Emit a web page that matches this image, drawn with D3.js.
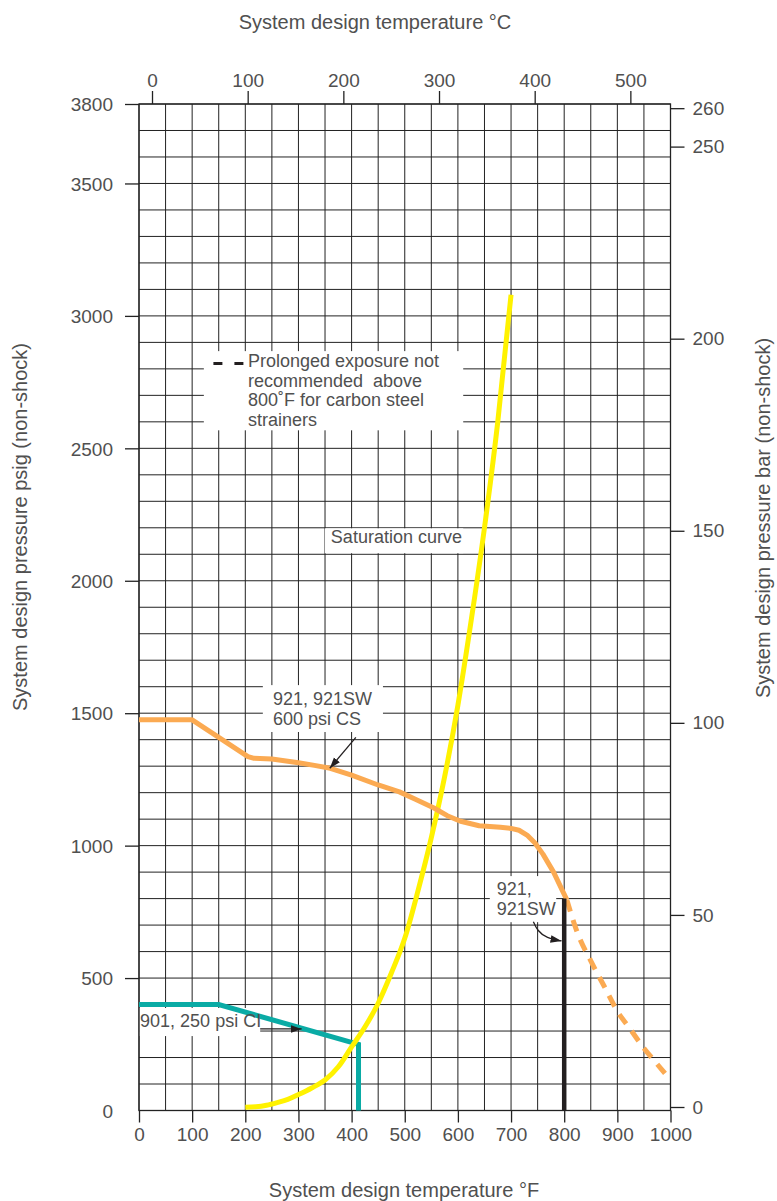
<!DOCTYPE html>
<html>
<head>
<meta charset="utf-8">
<script src="https://cdn.jsdelivr.net/npm/d3@7"></script>
<style>
  body { margin: 0; background: #fff; }
  text { font-family: "Liberation Sans", Arial, sans-serif; fill: #505050; white-space: pre; }
</style>
</head>
<body>
<svg id="chart" width="777" height="1201"></svg>
<script>
// tick labels
const fTicks = [0, 100, 200, 300, 400, 500, 600, 700, 800, 900, 1000];
const cTicks = [0, 100, 200, 300, 400, 500];
const psiTicks = [500, 1000, 1500, 2000, 2500, 3000, 3500, 3800];
const psiLabels = [0, 500, 1000, 1500, 2000, 2500, 3000, 3500, 3800];
const barTicks = [0, 50, 100, 150, 200, 250, 260];

// saturation curve (deg F, psig)
const satTemp = [200, 220, 240, 260, 280, 300, 325, 350, 375, 400, 425, 450, 475, 500, 525, 550, 575, 600, 625, 650, 675, 700];
const satPsi  = [12, 14, 20, 30, 42, 60, 85, 115, 165, 240, 315, 405, 520, 650, 830, 1030, 1260, 1530, 1850, 2200, 2600, 3080];

// 921, 921SW 600 psi CS
const csTemp = [0, 100, 205, 215, 250, 300, 330, 360, 400, 450, 490, 520, 555, 580, 605, 640, 680, 700, 715, 730, 745, 760, 780, 805];
const csPsi  = [1475, 1475, 1336, 1330, 1327, 1313, 1303, 1292, 1266, 1229, 1203, 1175, 1142, 1113, 1092, 1075, 1069, 1065, 1058, 1040, 1010, 968, 900, 795];
// above 800 F (not recommended for carbon steel)
const csDashTemp = [805, 825, 850, 875, 900, 925, 950, 975, 1000];
const csDashPsi  = [795, 670, 565, 470, 375, 305, 235, 175, 115];

// 901, 250 psi CI
const ciTemp = [0, 150, 413, 413];
const ciPsi  = [400, 400, 250, 0];

// 921, 921SW limit
const swTemp = [800, 800];
const swPsi  = [0, 800];

const svg = d3.select('#chart');

const x = d3.scaleLinear().domain([0, 1000]).range([139, 670.5]);
const y = d3.scaleLinear().domain([0, 3800]).range([1110.5, 104]);
// Celsius and bar scales (offset slightly as in the original print)
const xc = d3.scaleLinear().domain([(0 - 32) / 1.8, (1000 - 32) / 1.8]).range([135, 666.5]);
const yb = d3.scaleLinear().domain([0, 3800 / 14.5038]).range([1107, 100.5]);

// grid
const grid = svg.append('g').attr('stroke', '#222').attr('stroke-width', 1);
grid.selectAll('line.v').data(d3.range(0, 1001, 50)).join('line')
  .attr('x1', d => x(d)).attr('x2', d => x(d)).attr('y1', y(0)).attr('y2', y(3800));
grid.selectAll('line.h').data(d3.range(0, 3801, 100)).join('line')
  .attr('x1', x(0)).attr('x2', x(1000)).attr('y1', d => y(d)).attr('y2', d => y(d));

// white boxes behind the notes
const boxes = [
  { t0: 122, t1: 610, p0: 2568, p1: 2867 },
  { t0: 350, t1: 610, p0: 2104, p1: 2198 },
  { t0: 233, t1: 459, p0: 1429, p1: 1606 },
  { t0: 660, t1: 785, p0: 711, p1: 885 },
  { t0: 0.5, t1: 228, p0: 281, p1: 387 }
];
svg.append('g').selectAll('rect').data(boxes).join('rect')
  .attr('x', d => x(d.t0)).attr('width', d => x(d.t1) - x(d.t0))
  .attr('y', d => y(d.p1)).attr('height', d => y(d.p0) - y(d.p1))
  .attr('fill', '#fff');

// border
svg.append('rect')
  .attr('x', x(0)).attr('y', y(3800))
  .attr('width', x(1000) - x(0)).attr('height', y(0) - y(3800))
  .attr('fill', 'none').attr('stroke', '#222').attr('stroke-width', 1.3);

// curves
const line = d3.line().x(d => x(d[0])).y(d => y(d[1]));

svg.append('path')
  .datum(d3.zip(ciTemp, ciPsi))
  .attr('d', line)
  .attr('fill', 'none').attr('stroke', '#0aaba5').attr('stroke-width', 5)
  .attr('stroke-linejoin', 'miter');

svg.append('path')
  .datum(d3.zip(satTemp, satPsi))
  .attr('d', line.curve(d3.curveMonotoneX))
  .attr('fill', 'none').attr('stroke', '#fff200').attr('stroke-width', 5);

svg.append('path')
  .datum(d3.zip(csTemp, csPsi))
  .attr('d', line.curve(d3.curveLinear))
  .attr('fill', 'none').attr('stroke', '#fbaa52').attr('stroke-width', 5)
  .attr('stroke-linejoin', 'round');

svg.append('path')
  .datum(d3.zip(csDashTemp, csDashPsi))
  .attr('d', line.curve(d3.curveMonotoneX))
  .attr('fill', 'none').attr('stroke', '#fbaa52').attr('stroke-width', 5)
  .attr('stroke-dasharray', '12,9');

svg.append('path')
  .datum(d3.zip(swTemp, swPsi))
  .attr('d', line.curve(d3.curveLinear))
  .attr('fill', 'none').attr('stroke', '#231f20').attr('stroke-width', 4.5);

// arrow marker
svg.append('defs').append('marker')
  .attr('id', 'arrow').attr('viewBox', '0 0 10 10')
  .attr('refX', 10).attr('refY', 5)
  .attr('markerWidth', 11).attr('markerHeight', 11)
  .attr('markerUnits', 'userSpaceOnUse')
  .attr('orient', 'auto')
  .append('path').attr('d', 'M0,1.5 L10,5 L0,8.5 Z').attr('fill', '#231f20');

const arrows = [
  [[408, 1409], [359, 1292]],
  [[228, 308], [306, 308]]
];
svg.append('g').selectAll('path').data(arrows).join('path')
  .attr('d', d3.line().x(d => x(d[0])).y(d => y(d[1])))
  .attr('fill', 'none').attr('stroke', '#231f20').attr('stroke-width', 1.3)
  .attr('marker-end', 'url(#arrow)');

svg.append('path')
  .datum([[742, 713], [749, 680], [767, 650], [795, 640]])
  .attr('d', d3.line().x(d => x(d[0])).y(d => y(d[1])).curve(d3.curveBasis))
  .attr('fill', 'none').attr('stroke', '#231f20').attr('stroke-width', 1.3)
  .attr('marker-end', 'url(#arrow)');

// notes
const notes = [
  { t: 205, p: 2806, s: 'Prolonged exposure not' },
  { t: 205, p: 2732, s: 'recommended  above' },
  { t: 205, p: 2658, s: '800˚F for carbon steel' },
  { t: 205, p: 2585, s: 'strainers' },
  { t: 361, p: 2142, s: 'Saturation curve' },
  { t: 252, p: 1530, s: '921, 921SW' },
  { t: 252, p: 1456, s: '600 psi CS' },
  { t: 673, p: 813, s: '921,' },
  { t: 673, p: 738, s: '921SW' },
  { t: 2, p: 315, s: '901, 250 psi CI' }
];
svg.append('g').selectAll('text').data(notes).join('text')
  .attr('x', d => x(d.t)).attr('y', d => y(d.p))
  .attr('font-size', 18).text(d => d.s);

// dashed legend key
svg.append('line')
  .attr('x1', x(140)).attr('x2', x(197)).attr('y1', y(2820)).attr('y2', y(2820))
  .attr('stroke', '#231f20').attr('stroke-width', 3).attr('stroke-dasharray', '9,12');

// axes
function styleAxis(g) {
  g.select('.domain').remove();
  g.selectAll('.tick line').attr('stroke', '#222').attr('stroke-width', 1.3);
  g.selectAll('.tick text').attr('font-size', 19).attr('fill', '#505050')
    .attr('font-family', '"Liberation Sans", Arial, sans-serif');
}

svg.append('g').attr('transform', `translate(0,${y(0)})`)
  .call(d3.axisBottom(x).tickValues(fTicks).tickSize(12).tickPadding(5).tickFormat(d3.format('d')))
  .call(styleAxis);

svg.append('g').attr('transform', `translate(0,${y(3800)})`)
  .call(d3.axisTop(xc).tickValues(cTicks).tickSize(13).tickPadding(4).tickFormat(d3.format('d')))
  .call(styleAxis);

svg.append('g').attr('transform', `translate(${x(0)},0)`)
  .call(d3.axisLeft(y).tickValues(psiTicks).tickSize(14).tickFormat(''))
  .call(styleAxis);

svg.append('g').selectAll('text').data(psiLabels).join('text')
  .attr('x', 113).attr('y', d => y(d)).attr('dy', '0.38em')
  .attr('text-anchor', 'end').attr('font-size', 19).text(d => d);

svg.append('g').attr('transform', `translate(${x(1000)},0)`)
  .call(d3.axisRight(yb).tickValues(barTicks).tickSize(14).tickPadding(8).tickFormat(d3.format('d')))
  .call(styleAxis);

// titles
svg.append('text').attr('x', 375).attr('y', 29).attr('text-anchor', 'middle')
  .attr('font-size', 20).text('System design temperature °C');
svg.append('text').attr('x', 404).attr('y', 1197).attr('text-anchor', 'middle')
  .attr('font-size', 20).text('System design temperature °F');
svg.append('text').attr('transform', 'translate(27,527) rotate(-90)').attr('text-anchor', 'middle')
  .attr('font-size', 20).text('System design pressure psig (non-shock)');
svg.append('text').attr('transform', 'translate(770,518) rotate(-90)').attr('text-anchor', 'middle')
  .attr('font-size', 20).text('System design pressure bar (non-shock)');
</script>
</body>
</html>
